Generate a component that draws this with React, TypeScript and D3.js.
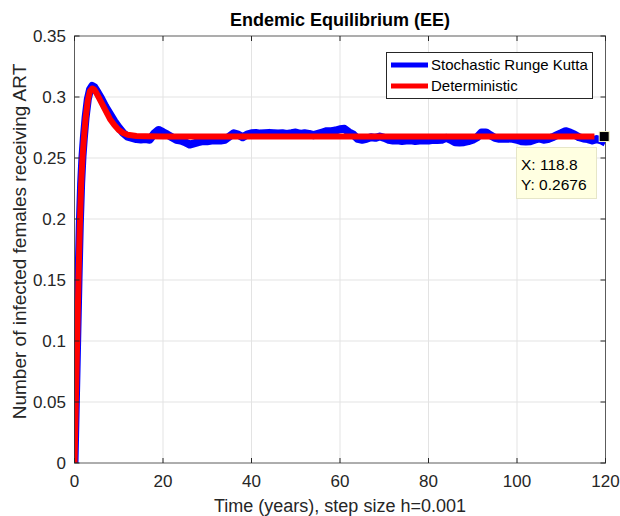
import React from "react";
import * as d3 from "d3";

const detT = [0, 0.3, 0.6, 0.9, 1.2, 1.5, 1.8, 2.1, 2.5, 3, 3.5, 4, 4.5, 5, 6, 7, 8, 9, 10, 11, 12, 14, 16, 20, 117.5];
const detV = [0, 0.05, 0.1, 0.15, 0.195, 0.228, 0.25, 0.265, 0.282, 0.297, 0.305, 0.307, 0.306, 0.303, 0.296, 0.289, 0.282, 0.277, 0.273, 0.2705, 0.269, 0.268, 0.2678, 0.2676, 0.2676];

const stochT = [0, 0.3, 0.6, 0.9, 1.2, 1.5, 1.8, 2.1, 2.5, 3, 3.5, 4, 4.5, 5,
  6, 7, 8, 9, 10, 11, 12, 13, 14, 15, 16, 17, 18, 19, 20, 21, 22, 23, 24, 25, 26, 27, 28, 29, 30,
  31, 32, 33, 34, 35, 36, 37, 38, 39, 40, 41, 42, 43, 44, 45, 46, 47, 48, 49, 50,
  51, 52, 53, 54, 55, 56, 57, 58, 59, 60, 61, 62, 63, 64, 65, 66, 67, 68, 69, 70,
  71, 72, 73, 74, 75, 76, 77, 78, 79, 80, 81, 82, 83, 84, 85, 86, 87, 88, 89, 90,
  91, 92, 93, 94, 95, 96, 97, 98, 99, 100, 101, 102, 103, 104, 105, 106, 107, 108, 109, 110,
  111, 112, 113, 114, 115, 116, 117, 118, 119, 120];
const stochV = [0, 0.05, 0.1, 0.15, 0.196, 0.229, 0.251, 0.266, 0.283, 0.298, 0.306, 0.309, 0.308, 0.305,
  0.299, 0.292, 0.286, 0.28, 0.275, 0.2705, 0.2675, 0.2665, 0.2655, 0.2652, 0.2655, 0.265, 0.27, 0.273, 0.2712, 0.2692, 0.267, 0.265, 0.2643, 0.263, 0.261, 0.262, 0.263, 0.2638, 0.2638,
  0.2643, 0.2645, 0.2643, 0.265, 0.2676, 0.2703, 0.2692, 0.267, 0.2692, 0.2703, 0.2705, 0.27, 0.2703, 0.2706, 0.2703, 0.27, 0.2703, 0.2698, 0.2703, 0.2709,
  0.2698, 0.2703, 0.2698, 0.2687, 0.2698, 0.2709, 0.272, 0.272, 0.2725, 0.2736, 0.2739, 0.2711, 0.2692, 0.2657, 0.265, 0.2657, 0.267, 0.2665, 0.2676, 0.2665,
  0.265, 0.2643, 0.2645, 0.264, 0.2643, 0.2645, 0.264, 0.2643, 0.2645, 0.2643, 0.265, 0.2648, 0.265, 0.2665, 0.265, 0.263, 0.2628, 0.263, 0.2638, 0.265,
  0.267, 0.271, 0.271, 0.2686, 0.2665, 0.2657, 0.2657, 0.266, 0.2657, 0.265, 0.2638, 0.2636, 0.2638, 0.265, 0.266, 0.265, 0.2655, 0.267, 0.2687, 0.2703,
  0.272, 0.2709, 0.2692, 0.267, 0.266, 0.2655, 0.2643, 0.2655, 0.2645, 0.2625];

const xTicks = [0, 20, 40, 60, 80, 100, 120];
const yTicks = [0, 0.05, 0.1, 0.15, 0.2, 0.25, 0.3, 0.35];
const yTickLabels = ["0", "0.05", "0.1", "0.15", "0.2", "0.25", "0.3", "0.35"];
const seriesNames = ["Stochastic Runge Kutta", "Deterministic"];
const seriesColors = ["#0000ff", "#ff0000"];
const tipX = 118.8;
const tipY = 0.2676;

const W = 620, H = 516;
const L = 74.5, R = 605.5, T = 36, B = 463;
const FONT = "'Liberation Sans', Arial, Helvetica, sans-serif";

export default function App() {
  const x = d3.scaleLinear().domain([0, 120]).range([L, R]);
  const y = d3.scaleLinear().domain([0, 0.35]).range([B, T]);
  const line = d3.line<[number, number]>().x(d => x(d[0])).y(d => y(d[1]));
  const detPath = line(detT.map((t, i) => [t, detV[i]] as [number, number])) || "";
  const stPath = line(stochT.map((t, i) => [t, stochV[i]] as [number, number])) || "";
  const axisColor = "#262626";
  const tickLen = 5;
  const mx = x(tipX) + 4, my = y(tipY);
  return (
    <svg width={W} height={H} style={{ position: "absolute", left: 0, top: 0, background: "#fff" }} fontFamily={FONT}>
      <rect x={0} y={0} width={W} height={H} fill="#fff" />
      {xTicks.slice(1, -1).map(t => (
        <line key={"gx" + t} x1={x(t)} x2={x(t)} y1={T} y2={B} stroke="#e3e3e3" strokeWidth={1} />
      ))}
      {yTicks.slice(1, -1).map(t => (
        <line key={"gy" + t} x1={L} x2={R} y1={y(t)} y2={y(t)} stroke="#e3e3e3" strokeWidth={1} />
      ))}
      <defs>
        <clipPath id="clip"><rect x={L} y={T} width={R - L} height={B - T} /></clipPath>
      </defs>
      <g clipPath="url(#clip)">
        <path d={stPath} fill="none" stroke={seriesColors[0]} strokeWidth={8} strokeLinejoin="round" />
        <path d={detPath} fill="none" stroke={seriesColors[1]} strokeWidth={6} strokeLinejoin="round" />
      </g>
      <rect x={L} y={T} width={R - L} height={B - T} fill="none" stroke={axisColor} strokeOpacity={0.75} strokeWidth={1} />
      {xTicks.map(t => (
        <g key={"tx" + t}>
          <line x1={x(t)} x2={x(t)} y1={B} y2={B - tickLen} stroke={axisColor} />
          <line x1={x(t)} x2={x(t)} y1={T} y2={T + tickLen} stroke={axisColor} />
          <text x={x(t)} y={487} textAnchor="middle" fontSize={17} fill="#262626">{t}</text>
        </g>
      ))}
      {yTicks.map((t, i) => (
        <g key={"ty" + t}>
          <line x1={L} x2={L + tickLen} y1={y(t)} y2={y(t)} stroke={axisColor} />
          <line x1={R} x2={R - tickLen} y1={y(t)} y2={y(t)} stroke={axisColor} />
          <text x={66} y={y(t) + 6} textAnchor="end" fontSize={17} fill="#262626">{yTickLabels[i]}</text>
        </g>
      ))}
      <text x={(L + R) / 2} y={26} textAnchor="middle" fontSize={18} fontWeight="bold" fill="#000">Endemic Equilibrium (EE)</text>
      <text x={(L + R) / 2} y={512} textAnchor="middle" fontSize={18} fill="#262626">Time (years), step size h=0.001</text>
      <text transform={`translate(26,${(T + B) / 2 - 8}) rotate(-90)`} textAnchor="middle" fontSize={19} fill="#262626">Number of infected females receiving ART</text>
      <rect x={386.5} y={52.5} width={206} height={46} fill="#fff" stroke="#262626" strokeWidth={1} />
      {seriesNames.map((n, i) => (
        <g key={n}>
          <line x1={391} x2={428} y1={65 + i * 21} y2={65 + i * 21} stroke={seriesColors[i]} strokeWidth={5} />
          <text x={431} y={70 + i * 21} fontSize={15} fill="#000">{n}</text>
        </g>
      ))}
      <rect x={516.5} y={147.5} width={80} height={51} fill="#ffffe1" stroke="#e6e6c8" strokeWidth={1} />
      <text x={521} y={170} fontSize={15.5} fill="#000">X: 118.8</text>
      <text x={521} y={190} fontSize={15.5} fill="#000">Y: 0.2676</text>
      <rect x={mx - 5} y={my - 5} width={10} height={10} fill="#000" stroke="#f5f5c8" strokeWidth={1} />
    </svg>
  );
}
